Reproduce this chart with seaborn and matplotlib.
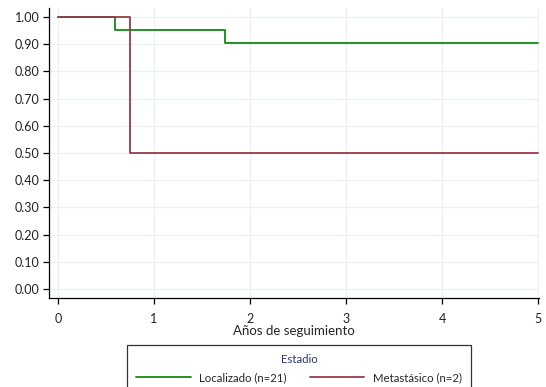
import matplotlib
matplotlib.use("Agg")
import matplotlib.pyplot as plt
import seaborn as sns
import pandas as pd
import numpy as np

# Kaplan-Meier step estimates by stage
loc_time = [0.0, 0.594, 1.74, 5.0]
loc_surv = [1.0, 0.952, 0.905, 0.905]
met_time = [0.0, 0.75, 5.0]
met_surv = [1.0, 0.5, 0.5]
groups = ["Localizado (n=21)", "Metastásico (n=2)"]
x_ticks = [0, 1, 2, 3, 4, 5]
y_ticks = [0.0, 0.1, 0.2, 0.3, 0.4, 0.5, 0.6, 0.7, 0.8, 0.9, 1.0]

df = pd.concat([
    pd.DataFrame({"t": loc_time, "s": loc_surv, "Estadio": groups[0]}),
    pd.DataFrame({"t": met_time, "s": met_surv, "Estadio": groups[1]}),
])

sns.set_style("white")
plt.rcParams["font.family"] = ["Lato", "DejaVu Sans"]

fig = plt.figure(figsize=(5.46, 3.87), dpi=100)
ax = fig.add_axes([49 / 546, 1 - 298 / 387, 490 / 546, 290 / 387])

palette = {groups[0]: "#118a11", groups[1]: "#9a3a44"}
sns.lineplot(data=df, x="t", y="s", hue="Estadio", palette=palette,
             drawstyle="steps-post", linewidth=1.3, ax=ax, legend=False)

ax.set_xlim(-0.094, 5.01)
ax.set_ylim(-0.033, 1.033)
ax.set_xticks(x_ticks)
ax.set_yticks(y_ticks)
ax.set_yticklabels([f"{v:.2f}" for v in y_ticks])
ax.grid(True, color="#eef1f1", linewidth=0.9)
ax.set_axisbelow(True)
for side in ["top", "right"]:
    ax.spines[side].set_visible(False)
for side in ["left", "bottom"]:
    ax.spines[side].set_color("black")
    ax.spines[side].set_linewidth(0.9)
ax.tick_params(axis="both", direction="out", length=4.5, width=0.9,
               color="black", labelsize=9, labelcolor="#222222",
               left=True, bottom=True)
ax.tick_params(axis="x", pad=6)
ax.tick_params(axis="y", pad=2.5)
ax.set_xlabel("Años de seguimiento", fontsize=9.5, labelpad=0)
ax.set_ylabel("")

handles = [plt.Line2D([], [], color=palette[g], linewidth=1.3) for g in groups]
leg = fig.legend(handles, groups, title="Estadio", ncol=2,
                 loc="upper left", bbox_to_anchor=(127 / 546, 1 - 345 / 387),
                 borderaxespad=0, frameon=True, fancybox=False, fontsize=8.2,
                 title_fontsize=8.2, handlelength=4.8, columnspacing=2.0,
                 borderpad=0.8, handletextpad=0.75, labelspacing=0.3)
leg._legend_box.sep = 5
leg.get_title().set_color("#2b3a6b")
leg.get_frame().set_edgecolor("black")
leg.get_frame().set_linewidth(0.9)

fig.savefig("out.png", dpi=100)
